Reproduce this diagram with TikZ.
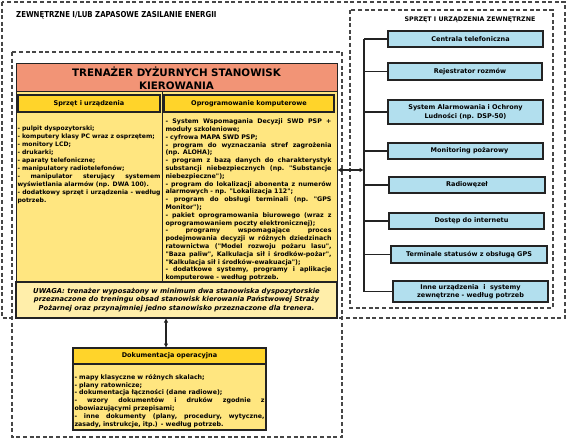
\documentclass[tikz,border=0pt]{standalone}
\usepackage{fontspec}
\setmainfont{DejaVu Sans}[Ligatures=TeXOff]
\newfontfamily\condfont{DejaVu Sans}[Ligatures=TeXOff,FakeStretch=0.85]
\usetikzlibrary{arrows.meta,calc}
\definecolor{salmon}{RGB}{242,148,118}
\definecolor{hdr}{RGB}{255,212,42}
\definecolor{bodyy}{RGB}{255,230,128}
\definecolor{noteY}{RGB}{255,238,170}
\definecolor{blueb}{RGB}{178,223,238}
\definecolor{dashc}{RGB}{70,70,70}
\definecolor{edge}{RGB}{35,35,35}
\newcommand\jline[1]{\par\noindent\hbox to\hsize{\frenchspacing\spaceskip=\fontdimen2\font plus 1fil\relax\xspaceskip=\spaceskip #1}\par}
\newcommand\rline[1]{\par\noindent\hbox{#1}\par}
\tikzset{
  dframe/.style={draw=dashc, line width=1.1pt, dash pattern=on 4pt off 2.6pt},
  rbox/.style={draw=edge, line width=1pt, inner sep=0pt, outer sep=0pt, anchor=north west},
  hbox/.style={rbox, fill=hdr, line width=1.3pt, font=\bfseries\fontsize{6.5}{7.5}\selectfont},
  cellbox/.style={rbox, fill=bodyy},
  bluebox/.style={rbox, fill=blueb, line width=1.2pt, align=center, font=\bfseries\fontsize{6.5}{8.5}\selectfont},
  listtext/.style={anchor=north west, inner sep=0pt, outer sep=0pt, font=\bfseries\fontsize{6.3}{7.8}\selectfont},
  conn/.style={draw=edge, line width=1.4pt},
  dblarrow/.style={draw=edge, line width=1.5pt, {Latex[length=4.5pt,width=4.5pt]}-{Latex[length=4.5pt,width=4.5pt]}}
}
\begin{document}
\begin{tikzpicture}[x=1pt,y=-1pt]
\useasboundingbox (0,0) rectangle (567,438);
% dashed regions
\draw[dframe] (2,2) rectangle (565,318);
\draw[dframe] (12,52) rectangle (342,437);
\draw[dframe] (350,10) rectangle (553,308);
% titles
\node[anchor=west, inner sep=0pt, font=\condfont\bfseries\fontsize{8.2}{9}\selectfont] (ttl) at (16,15.5) {ZEWNĘTRZNE I/LUB ZAPASOWE ZASILANIE ENERGII};
\node[inner sep=0pt, font=\bfseries\fontsize{6.3}{7}\selectfont] (rttl) at (470,20) {SPRZĘT I URZĄDZENIA ZEWNĘTRZNE};
% trainer
\node[rbox, fill=salmon, minimum width=321pt, minimum height=28pt, align=center, font=\bfseries\fontsize{10.3}{13}\selectfont] (trn) at (16,64) {TRENAŻER DYŻURNYCH STANOWISK\\KIEROWANIA};
\node[cellbox, minimum width=146pt, minimum height=190pt] (lcell) at (16,92) {};
\node[cellbox, minimum width=175pt, minimum height=190pt] (rcell) at (162,92) {};
\node[hbox, minimum width=142pt, minimum height=17pt] (lhdr) at (18,95) {Sprzęt i urządzenia};
\node[hbox, minimum width=170pt, minimum height=17pt] (rhdr) at (164,95) {Oprogramowanie komputerowe};
\node[listtext, text width=143pt, font=\bfseries\fontsize{6.1}{8}\selectfont] (ltxt) at (17.5,122.5) {%
\rline{- pulpit dyspozytorski;}
\rline{- komputery klasy PC wraz z osprzętem;}
\rline{- monitory LCD;}
\rline{- drukarki;}
\rline{- aparaty telefoniczne;}
\rline{- manipulatory radiotelefonów;}
\jline{- manipulator sterujący systemem}
\rline{wyświetlania alarmów (np. DWA 100).}
\jline{- dodatkowy sprzęt i urządzenia - według}
\rline{potrzeb.}};
\node[listtext, text width=166pt] (rtxt) at (165.5,116) {%
\jline{- System Wspomagania Decyzji SWD PSP +}
\rline{moduły szkoleniowe;}
\rline{- cyfrowa MAPA SWD PSP;}
\jline{- program do wyznaczania stref zagrożenia}
\rline{(np. ALOHA);}
\jline{- program z bazą danych do charakterystyk}
\jline{substancji niebezpiecznych (np. "Substancje}
\rline{niebezpieczne");}
\jline{- program do lokalizacji abonenta z numerów}
\rline{alarmowych - np. "Lokalizacja 112";}
\jline{- program do obsługi terminali (np. "GPS}
\rline{Monitor");}
\jline{- pakiet oprogramowania biurowego (wraz z}
\rline{oprogramowaniem poczty elektronicznej);}
\jline{- programy wspomagające proces}
\jline{podejmowania decyzji w różnych dziedzinach}
\jline{ratownictwa ("Model rozwoju pożaru lasu",}
\jline{"Baza paliw", Kalkulacja sił i środków-pożar",}
\rline{"Kalkulacja sił i środków-ewakuacja");}
\jline{- dodatkowe systemy, programy i aplikacje}
\rline{komputerowe - według potrzeb.}};
% note
\node[rbox, fill=noteY, line width=1.3pt, minimum width=321pt, minimum height=36pt, align=center, font=\bfseries\itshape\fontsize{6.8}{8.5}\selectfont] (uwaga) at (16,282) {UWAGA: trenażer wyposażony w minimum dwa stanowiska dyspozytorskie\\przeznaczone do treningu obsad stanowisk kierowania Państwowej Straży\\Pożarnej oraz przynajmniej jedno stanowisko przeznaczone dla trenera.};
% documentation
\node[hbox, minimum width=193pt, minimum height=16pt] (dokh) at (73,348) {Dokumentacja operacyjna};
\node[cellbox, line width=1.3pt, minimum width=193pt, minimum height=66pt] (dokb) at (73,364) {};
\node[listtext, text width=190pt] (doktxt) at (74.5,371.5) {%
\rline{- mapy klasyczne w różnych skalach;}
\rline{- plany ratownicze;}
\rline{- dokumentacja łączności (dane radiowe);}
\jline{- wzory dokumentów i druków zgodnie z}
\rline{obowiazującymi przepisami;}
\jline{- inne dokumenty (plany, procedury, wytyczne,}
\rline{zasady, instrukcje, itp.) - według potrzeb.}};
% external devices
\node[bluebox, minimum width=155pt, minimum height=16pt] (b1) at (388,31) {\hspace*{10pt}Centrala telefoniczna};
\node[bluebox, minimum width=154pt, minimum height=17pt] (b2) at (388,63) {\hspace*{10pt}Rejestrator rozmów};
\node[bluebox, minimum width=155pt, minimum height=24pt] (b3) at (388,100) {System Alarmowania i Ochrony\\Ludności (np. DSP-50)};
\node[bluebox, minimum width=155pt, minimum height=16pt] (b4) at (388,143) {\hspace*{8pt}Monitoring pożarowy};
\node[bluebox, minimum width=156pt, minimum height=16pt] (b5) at (389,177) {Radiowęzeł};
\node[bluebox, minimum width=155pt, minimum height=16pt] (b6) at (389,213) {\hspace*{10pt}Dostęp do internetu};
\node[bluebox, minimum width=156pt, minimum height=17pt] (b7) at (391,246) {Terminale statusów z obsługą GPS};
\node[bluebox, minimum width=155pt, minimum height=21pt] (b8) at (393,281) {Inne urządzenia\ \ i\ \ systemy\\zewnętrzne - według potrzeb};
% bus
\coordinate (busx) at (364,0);
\draw[conn] (b1.west -| busx) -- (b8.west -| busx);
\foreach \b in {b1,b2,b3,b4,b5,b6,b7,b8}{\draw[conn] (\b.west -| busx) -- (\b.west);}
\coordinate (busarr) at (364,170);
\draw[dblarrow] (rcell.east |- busarr) -- (busarr);
\coordinate (varr) at (166,0);
\draw[dblarrow] (uwaga.south -| varr) -- (dokh.north -| varr);
\end{tikzpicture}
\end{document}
